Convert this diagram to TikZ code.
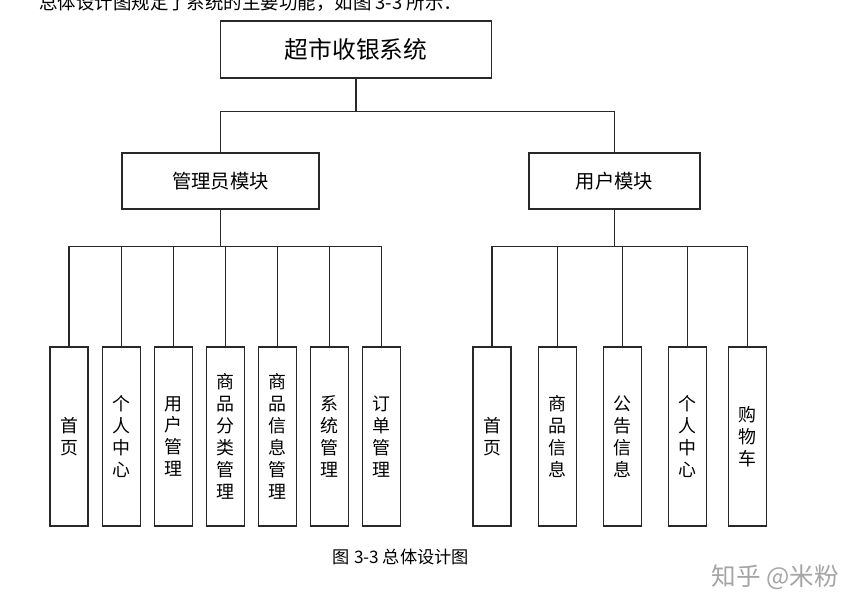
\documentclass[tikz,border=0pt]{standalone}
\usepackage{fontspec}
\newfontfamily\cjk{Noto Sans CJK SC}
\usepackage{tikz}
\usetikzlibrary{
  positioning
}
\definecolor{lineborder}{RGB}{40,40,40}
\definecolor{markgray}{RGB}{165,165,165}
\tikzset{
  rootbox/.style={
    draw=lineborder, line width=0.6pt,
    minimum width=5.42cm, minimum height=1.14cm,
    font=\cjk\fontsize{13.5}{16}\selectfont, align=center
  },
  modbox/.style={
    draw=lineborder, line width=0.6pt,
    minimum height=1.12cm,
    font=\cjk\fontsize{11}{13}\selectfont, align=center
  },
  leafbox/.style={
    draw=lineborder, line width=0.6pt, inner sep=0pt,
    minimum width=0.76cm, minimum height=3.58cm,
    font=\cjk\fontsize{10.2}{12.5}\selectfont, align=center
  },
  treeline/.style={
    draw=lineborder, line width=0.6pt
  }
}
\begin{document}
\begin{tikzpicture}[
    node distance=0.26cm,
    every node/.style={align=center}
  ]
    \useasboundingbox (0,0) rectangle (17.32,-12.22);

    % cut-off line of text above the figure
    \node[anchor=west, inner sep=0pt, font=\cjk\fontsize{10.5}{12}\selectfont] (intro) at (0.78,-0.05)
      {总体设计图规定了系统的主要功能，如图 3-3 所示：};

    \node[rootbox] (root) at (7.12,-0.99) {超市收银系统};

    \node[modbox, minimum width=3.94cm] (admin) at (4.41,-3.62) {管理员模块};
    \node[modbox, minimum width=3.42cm] (user) at (12.29,-3.62) {用户模块};

    % admin leaves
    \node[leafbox] (a1) at (1.38,-8.73) {首\\页};
    \node[leafbox, right=of a1] (a2) {个\\人\\中\\心};
    \node[leafbox, right=of a2] (a3) {用\\户\\管\\理};
    \node[leafbox, right=of a3] (a4) {商\\品\\分\\类\\管\\理};
    \node[leafbox, right=of a4] (a5) {商\\品\\信\\息\\管\\理};
    \node[leafbox, right=of a5] (a6) {系\\统\\管\\理};
    \node[leafbox, right=of a6] (a7) {订\\单\\管\\理};

    % user leaves
    \node[leafbox] (u1) at (9.84,-8.73) {首\\页};
    \node[leafbox, right=0.52cm of u1] (u2) {商\\品\\信\\息};
    \node[leafbox, right=0.52cm of u2] (u3) {公\\告\\信\\息};
    \node[leafbox, right=0.52cm of u3] (u4) {个\\人\\中\\心};
    \node[leafbox, right=0.42cm of u4] (u5) {购\\物\\车};

    \node[font=\cjk\fontsize{9.8}{12}\selectfont] (caption) at (8.02,-11.14) {图 3-3 总体设计图};
    \node[font=\cjk\fontsize{14}{16}\selectfont, text=markgray] (mark) at (15.5,-11.54) {知乎 @米粉};

    \draw[treeline] (root.south) -- ++(0,-0.66) -| (admin.north);
    \draw[treeline] (root.south) -- ++(0,-0.66) -| (user.north);

    \draw[treeline] (admin.south) -- ++(0,-0.74) -| (a1.north);
    \draw[treeline] (admin.south) -- ++(0,-0.74) -| (a2.north);
    \draw[treeline] (admin.south) -- ++(0,-0.74) -| (a3.north);
    \draw[treeline] (admin.south) -- ++(0,-0.74) -| (a4.north);
    \draw[treeline] (admin.south) -- ++(0,-0.74) -| (a5.north);
    \draw[treeline] (admin.south) -- ++(0,-0.74) -| (a6.north);
    \draw[treeline] (admin.south) -- ++(0,-0.74) -| (a7.north);

    \draw[treeline] (user.south) -- ++(0,-0.74) -| (u1.north);
    \draw[treeline] (user.south) -- ++(0,-0.74) -| (u2.north);
    \draw[treeline] (user.south) -- ++(0,-0.74) -| (u3.north);
    \draw[treeline] (user.south) -- ++(0,-0.74) -| (u4.north);
    \draw[treeline] (user.south) -- ++(0,-0.74) -| (u5.north);

  \end{tikzpicture}
\end{document}
